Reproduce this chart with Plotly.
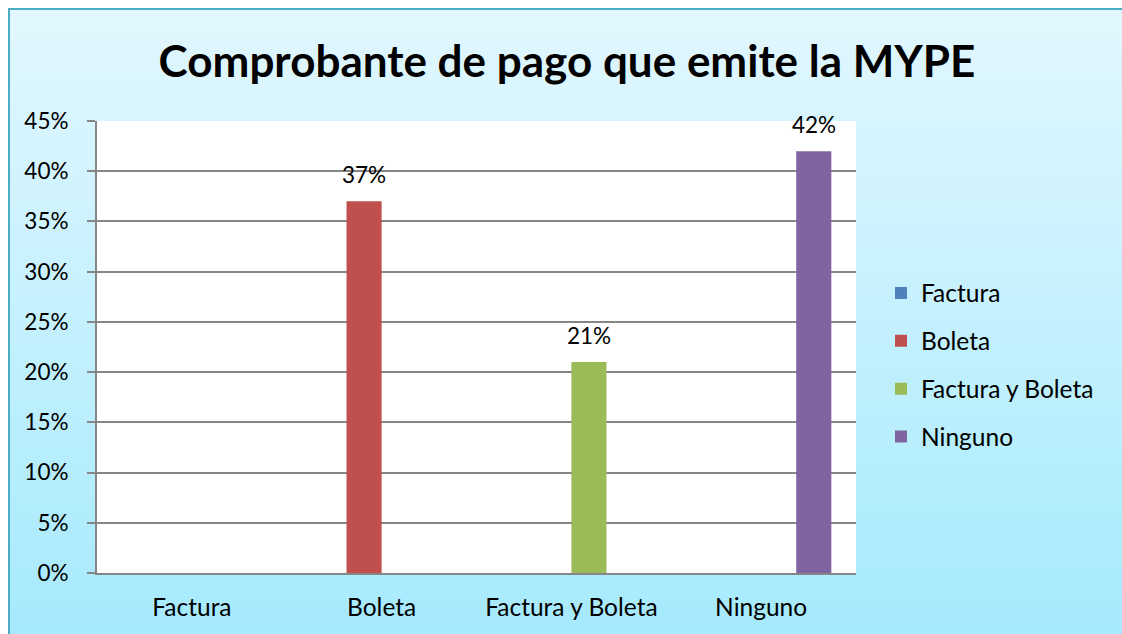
import plotly.graph_objects as go

# ---- data ----
categories = ["Factura", "Boleta", "Factura y Boleta", "Ninguno"]
series_names = ["Factura", "Boleta", "Factura y Boleta", "Ninguno"]
values = [0.00, 0.37, 0.21, 0.42]
colors = ["#4F81BD", "#C0504D", "#9BBB59", "#8064A2"]
y_ticks = [0, 0.05, 0.10, 0.15, 0.20, 0.25, 0.30, 0.35, 0.40, 0.45]
title_text = "Comprobante de pago que emite la MYPE"

W, H = 1122, 634
ML, MR, MT, MB = 97, 1122 - 856, 121, 634 - 573
PW, PH = W - ML - MR, H - MT - MB
BARGAP = 0.26
FONT = "Lato"
NUM_SIZE = 22.5
TXT_SIZE = 24.5
EDGE = 8  # white gutter around the chart area

def px_x(px):
    return (px - ML) / PW

def px_y(py):
    return 1 - (py - MT) / PH

n = len(series_names)
w = (1 - BARGAP) / n

fig = go.Figure()
for i, name in enumerate(series_names):
    fig.add_trace(go.Bar(
        x=[categories[i]], y=[values[i]], name=name,
        marker=dict(color=colors[i], line=dict(width=0)),
        width=w, offset=-(1 - BARGAP) / 2 + i * w,
        legendgroup=name,
    ))

# data labels
annotations = []
for i, v in enumerate(values):
    if v > 0:
        annotations.append(dict(
            x=i + (i - (n - 1) / 2) * w, y=v, xref="x", yref="y",
            text=f"{v*100:.0f}%", showarrow=False, yanchor="middle", yshift=27,
            font=dict(family=FONT, size=NUM_SIZE, color="#000000"),
        ))

# background gradient (chart area) + border + white plot area
shapes = []
top_c = (226, 247, 254)
bot_c = (166, 234, 253)
steps = 80
y_start, y_end = EDGE, H + 5
for k in range(steps):
    t = k / (steps - 1)
    c = tuple(round(top_c[j] + (bot_c[j] - top_c[j]) * t) for j in range(3))
    ya = y_start + (y_end - y_start) * k / steps
    yb = y_start + (y_end - y_start) * (k + 1) / steps + 1
    shapes.append(dict(type="rect", xref="paper", yref="paper",
                       x0=px_x(EDGE), x1=px_x(W + 5), y0=px_y(yb), y1=px_y(ya),
                       fillcolor="rgb(%d,%d,%d)" % c, line=dict(width=0), layer="below"))
shapes.append(dict(type="rect", xref="paper", yref="paper",
                   x0=px_x(EDGE + 1), x1=px_x(W + 5), y0=px_y(H + 5), y1=px_y(EDGE + 1),
                   fillcolor="rgba(0,0,0,0)", line=dict(color="#4BACC6", width=2), layer="below"))
shapes.append(dict(type="rect", xref="paper", yref="paper", x0=0, x1=1, y0=0, y1=1,
                   fillcolor="#FFFFFF", line=dict(width=0), layer="below"))

fig.update_layout(
    width=W, height=H,
    margin=dict(l=ML, r=MR, t=MT, b=MB, autoexpand=False),
    paper_bgcolor="#FFFFFF", plot_bgcolor="#FFFFFF",
    barmode="group", bargap=BARGAP, bargroupgap=0,
    font=dict(family=FONT, size=TXT_SIZE, color="#000000"),
    title=dict(text=f"<b>{title_text}</b>", xref="container", yref="container",
               x=567 / W, y=1 - 62 / H, xanchor="center", yanchor="middle",
               font=dict(family=FONT, size=44, color="#000000")),
    showlegend=True,
    legend=dict(xref="container", yref="container", x=881 / W, y=1 - 365 / H,
                xanchor="left", yanchor="middle", bgcolor="rgba(0,0,0,0)",
                font=dict(family=FONT, size=TXT_SIZE, color="#000000"),
                tracegroupgap=13, traceorder="grouped"),
    shapes=shapes, annotations=annotations,
)
fig.update_xaxes(type="category", categoryorder="array", categoryarray=categories,
                 range=[-0.5, len(categories) - 0.5],
                 showline=True, linecolor="#868686", linewidth=2, showgrid=False,
                 ticks="", ticklabelstandoff=12, zeroline=False,
                 tickfont=dict(family=FONT, size=TXT_SIZE, color="#000000"))
fig.update_yaxes(range=[0, 0.45], tickvals=y_ticks, tickformat=".0%",
                 showline=True, linecolor="#868686", linewidth=2,
                 showgrid=True, gridcolor="#868686", gridwidth=2,
                 ticks="outside", ticklen=8, tickcolor="#868686", tickwidth=2,
                 ticklabelstandoff=14, zeroline=False,
                 tickfont=dict(family=FONT, size=NUM_SIZE, color="#000000"))

fig.write_html("out.html", config={"displayModeBar": False},
               post_script="document.body.style.margin='0px';document.body.style.overflow='hidden';")
